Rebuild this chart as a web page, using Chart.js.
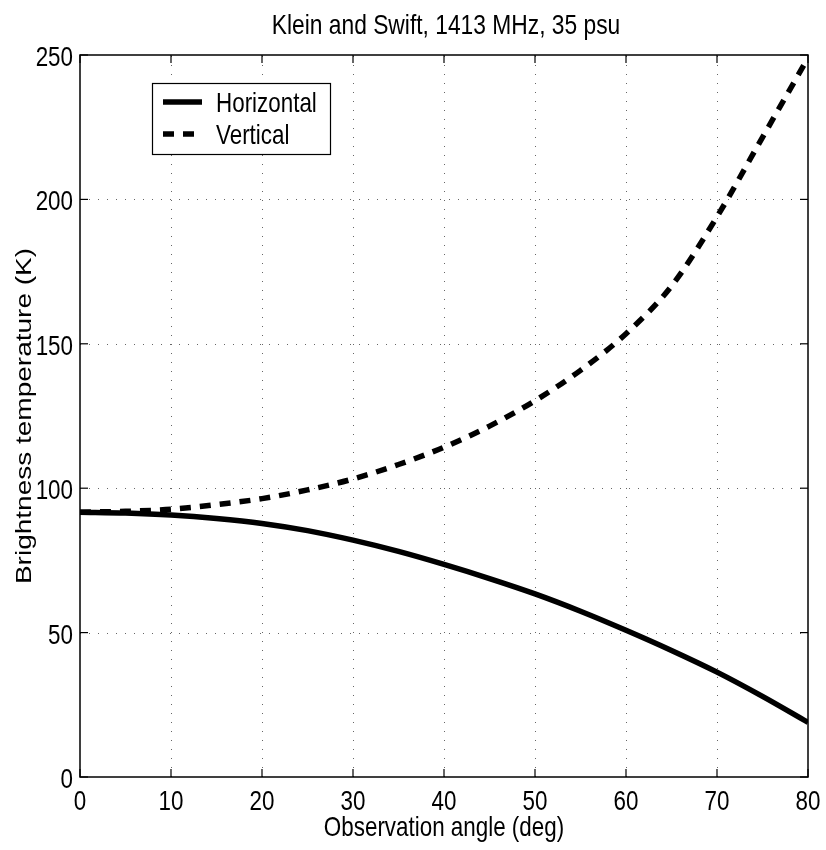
<!DOCTYPE html>
<html>
<head>
<meta charset="utf-8">
<script src="https://cdn.jsdelivr.net/npm/chart.js@4.4.1/dist/chart.umd.min.js"></script>
<style>
  html, body { margin: 0; padding: 0; background: #ffffff; }
  #wrap { width: 826px; height: 850px; position: relative; }
</style>
</head>
<body>
<div id="wrap"><canvas id="c" width="826" height="850"></canvas></div>
<script>
// ---- Data ----
const titleText = 'Klein and Swift, 1413 MHz, 35 psu';
const xLabel = 'Observation angle (deg)';
const yLabel = 'Brightness temperature (K)';
const seriesNames = ['Horizontal', 'Vertical'];
const angles = [0, 5, 10, 15, 20, 25, 30, 35, 40, 45, 50, 55, 60, 65, 70, 75, 80];
const horizontal = [91.7, 91.4, 90.7, 89.5, 87.8, 85.3, 82.0, 78.1, 73.6, 68.7, 63.4, 57.4, 50.8, 43.8, 36.3, 27.9, 18.9];
const vertical = [91.7, 92.0, 92.7, 94.3, 96.4, 99.4, 103.2, 108.2, 114.2, 121.5, 130.3, 140.8, 153.5, 170.0, 194.0, 221.5, 249.0];
const xTickStep = 10;
const yTickStep = 50;
const xRange = [0, 80];
const yRange = [0, 250];

const FONT = "'Liberation Sans', Arial, Helvetica, sans-serif";
const SX = 0.8; // horizontal squeeze of the reference lettering

function squeezedText(ctx, text, x, y, size, align, baseline, rotate) {
  ctx.save();
  ctx.translate(x, y);
  ctx.scale(SX, 1);
  if (rotate) ctx.rotate(rotate);
  ctx.font = size + 'px ' + FONT;
  ctx.fillStyle = '#000000';
  ctx.textAlign = align;
  ctx.textBaseline = baseline;
  ctx.fillText(text, 0, 0);
  ctx.restore();
}

const framePlugin = {
  id: 'matlabFrame',
  beforeDatasetsDraw(chart) {
    const { ctx, chartArea: a, scales } = chart;
    ctx.save();
    ctx.strokeStyle = '#666666';
    ctx.lineWidth = 1;
    ctx.setLineDash([1, 8]);
    scales.x.ticks.forEach(t => {
      if (t.value <= xRange[0] || t.value >= xRange[1]) return;
      const px = Math.round(scales.x.getPixelForValue(t.value)) + 0.5;
      ctx.beginPath(); ctx.moveTo(px, a.bottom); ctx.lineTo(px, a.top); ctx.stroke();
    });
    scales.y.ticks.forEach(t => {
      if (t.value <= yRange[0] || t.value >= yRange[1]) return;
      const py = Math.round(scales.y.getPixelForValue(t.value)) + 0.5;
      ctx.beginPath(); ctx.moveTo(a.left, py); ctx.lineTo(a.right, py); ctx.stroke();
    });
    ctx.restore();
  },
  afterDatasetsDraw(chart) {
    const { ctx, chartArea: a, scales } = chart;
    ctx.save();
    ctx.setLineDash([]);
    ctx.strokeStyle = '#000000';
    ctx.lineWidth = 1.5;
    ctx.strokeRect(a.left, a.top, a.right - a.left, a.bottom - a.top);
    const tl = 8;
    ctx.lineWidth = 1.2;
    scales.x.ticks.forEach(t => {
      const px = scales.x.getPixelForValue(t.value);
      ctx.beginPath(); ctx.moveTo(px, a.bottom); ctx.lineTo(px, a.bottom - tl); ctx.stroke();
      ctx.beginPath(); ctx.moveTo(px, a.top); ctx.lineTo(px, a.top + tl); ctx.stroke();
    });
    scales.y.ticks.forEach(t => {
      const py = scales.y.getPixelForValue(t.value);
      ctx.beginPath(); ctx.moveTo(a.left, py); ctx.lineTo(a.left + tl, py); ctx.stroke();
      ctx.beginPath(); ctx.moveTo(a.right, py); ctx.lineTo(a.right - tl, py); ctx.stroke();
    });
    ctx.restore();

    // tick labels (values come from the library's scales)
    scales.x.ticks.forEach(t => {
      const px = scales.x.getPixelForValue(t.value);
      squeezedText(ctx, String(t.label), px, a.bottom + 33, 28, 'center', 'alphabetic');
    });
    scales.y.ticks.forEach(t => {
      const py = scales.y.getPixelForValue(t.value);
      squeezedText(ctx, String(t.label), a.left - 7, py + 11, 28, 'right', 'alphabetic');
    });
    // axis titles and chart title
    const cx = (a.left + a.right) / 2;
    const cy = (a.top + a.bottom) / 2;
    squeezedText(ctx, xLabel, cx, 836, 28, 'center', 'alphabetic');
    squeezedText(ctx, yLabel, 31, cy, 28, 'center', 'alphabetic', -Math.PI / 2);
    squeezedText(ctx, titleText, cx + 2, 34, 28.5, 'center', 'alphabetic');
  },
  afterDraw(chart) {
    const { ctx } = chart;
    const bx = 152, by = 83, bw = 178, bh = 71;
    ctx.save();
    ctx.fillStyle = '#ffffff';
    ctx.fillRect(bx, by, bw, bh);
    ctx.strokeStyle = '#000000';
    ctx.lineWidth = 1.2;
    ctx.strokeRect(bx + 0.5, by + 0.5, bw, bh);
    const rows = [102, 134];
    chart.data.datasets.forEach((ds, i) => {
      ctx.strokeStyle = ds.borderColor;
      ctx.lineWidth = ds.borderWidth;
      ctx.lineCap = 'butt';
      ctx.setLineDash(ds.borderDash || []);
      ctx.beginPath();
      ctx.moveTo(163, rows[i]);
      ctx.lineTo(i === 0 ? 202 : 195, rows[i]);
      ctx.stroke();
      ctx.setLineDash([]);
      squeezedText(ctx, ds.label, 216, rows[i] + 10, 28, 'left', 'alphabetic');
    });
    ctx.restore();
  }
};

new Chart(document.getElementById('c'), {
  type: 'line',
  data: {
    labels: angles,
    datasets: [
      {
        label: seriesNames[0],
        data: angles.map((a, i) => ({ x: a, y: horizontal[i] })),
        borderColor: '#000000',
        borderWidth: 5.5,
        borderCapStyle: 'butt',
        pointRadius: 0,
        cubicInterpolationMode: 'monotone',
        fill: false
      },
      {
        label: seriesNames[1],
        data: angles.map((a, i) => ({ x: a, y: vertical[i] })),
        borderColor: '#000000',
        borderWidth: 5.5,
        borderDash: [11, 9],
        borderCapStyle: 'butt',
        pointRadius: 0,
        cubicInterpolationMode: 'monotone',
        fill: false
      }
    ]
  },
  options: {
    responsive: false,
    animation: false,
    devicePixelRatio: 1,
    layout: { padding: { left: 0, right: 18, top: 55, bottom: 0 } },
    plugins: {
      legend: { display: false },
      tooltip: { enabled: false },
      title: { display: false }
    },
    scales: {
      x: {
        type: 'linear',
        min: xRange[0], max: xRange[1],
        ticks: { stepSize: xTickStep, display: false },
        grid: { display: false },
        border: { display: false },
        afterFit(scale) { scale.height = 73; }
      },
      y: {
        type: 'linear',
        min: yRange[0], max: yRange[1],
        ticks: { stepSize: yTickStep, display: false },
        grid: { display: false },
        border: { display: false },
        afterFit(scale) { scale.width = 80; }
      }
    }
  },
  plugins: [framePlugin]
});
</script>
</body>
</html>
